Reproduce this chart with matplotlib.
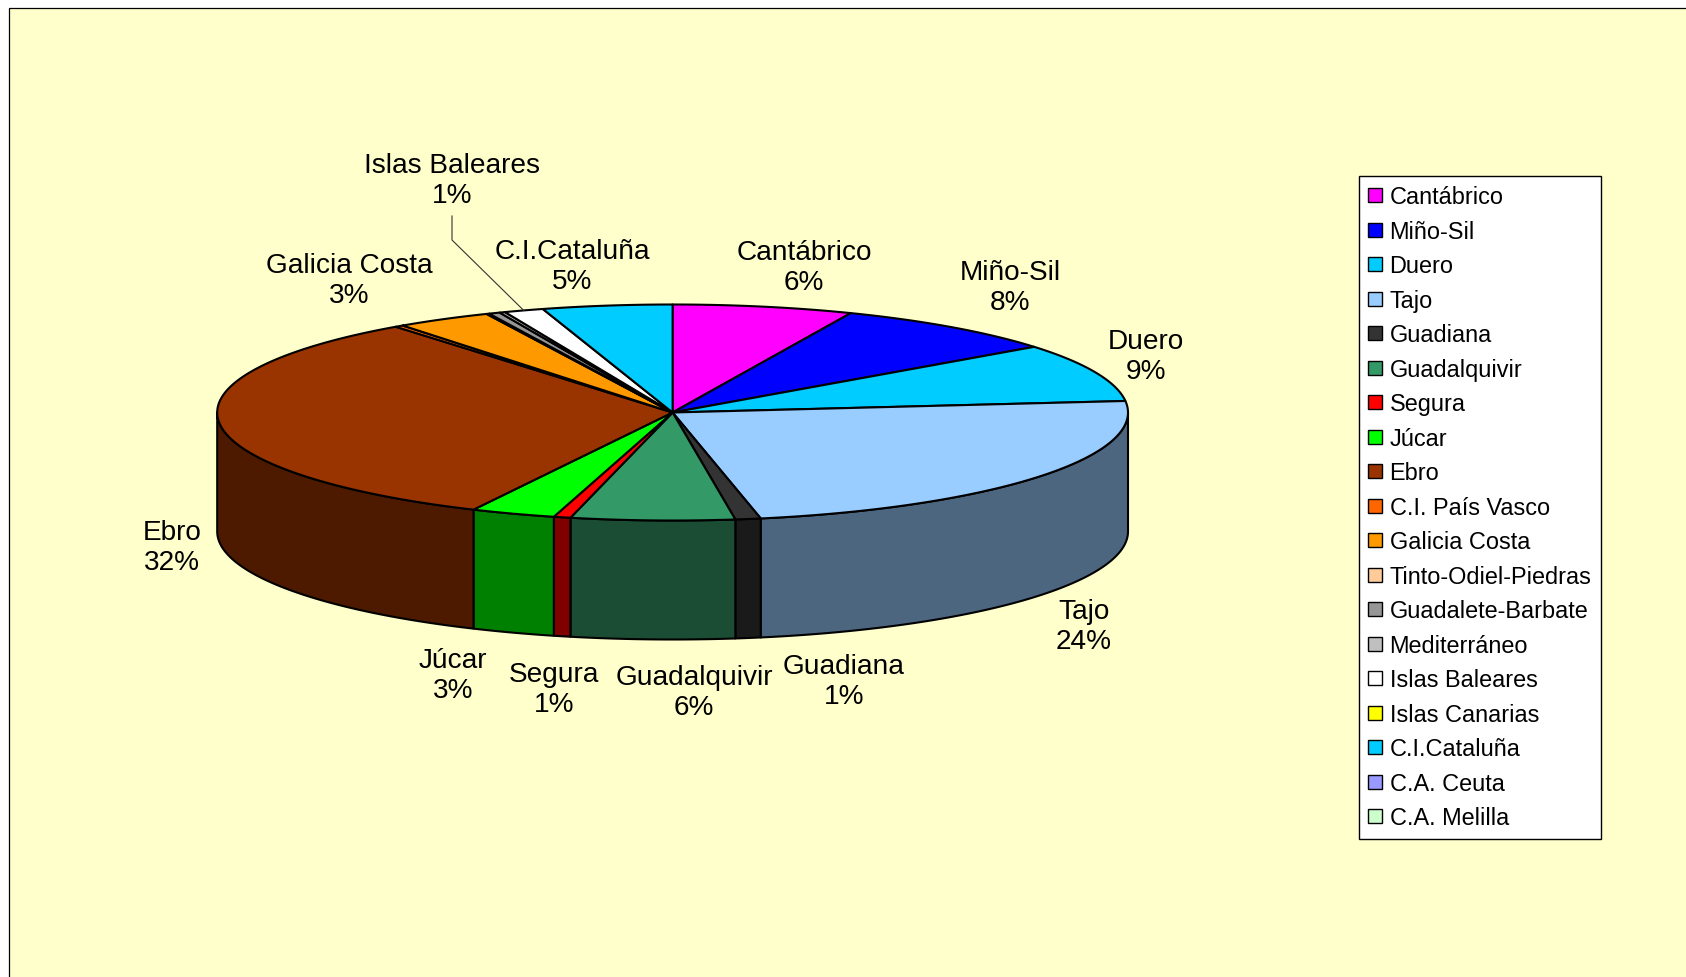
"""Distribucion por cuencas hidrograficas - tarta 3D estilo Excel
"""
import numpy as np
import matplotlib
matplotlib.use('Agg')
import matplotlib.pyplot as plt
from matplotlib.patches import Polygon, Rectangle, Patch
from matplotlib.colors import to_rgb

plt.rcParams['font.family'] = ['Liberation Sans', 'DejaVu Sans']

# datos: porcentaje de cada cuenca
cuencas = ['Cantábrico', 'Miño-Sil', 'Duero', 'Tajo', 'Guadiana',
	'Guadalquivir', 'Segura', 'Júcar', 'Ebro', 'C.I. País Vasco',
	'Galicia Costa', 'Tinto-Odiel-Piedras', 'Guadalete-Barbate',
	'Mediterráneo', 'Islas Baleares', 'Islas Canarias', 'C.I.Cataluña',
	'C.A. Ceuta', 'C.A. Melilla']
valores = [6.4, 8.2, 8.7, 23.6, 0.9, 5.8, 0.6, 3.0, 32.4, 0.3,
	3.4, 0.1, 0.4, 0.2, 1.4, 0.0, 4.6, 0.0, 0.0]
colores = ['#FF00FF', '#0000FF', '#00CCFF', '#99CCFF', '#333333',
	'#339966', '#FF0000', '#00FF00', '#993300', '#FF6600',
	'#FF9900', '#FFCC99', '#969696', '#C0C0C0', '#FFFFFF',
	'#FFFF00', '#00CCFF', '#9999FF', '#CCFFCC']

# etiquetas que aparecen sobre el grafico
etiquetadas = ['Cantábrico', 'Miño-Sil', 'Duero', 'Tajo', 'Guadiana',
	'Guadalquivir', 'Segura', 'Júcar', 'Ebro', 'Galicia Costa',
	'C.I.Cataluña', 'Islas Baleares']

# layout en pixeles (y hacia abajo)
W, H = 1686, 978
CX, CY = 672.6, 413.5
RX, RY = 455.4, 108.0
DEPTH = 119.0
LABEL_XY = {
	'Cantábrico': (804, 268), 'Miño-Sil': (1010, 288),
	'Duero': (1146, 357), 'Tajo': (1084, 627),
	'Guadiana': (844, 682), 'Guadalquivir': (694, 693),
	'Segura': (554, 690), 'Júcar': (453, 676), 'Ebro': (172, 548),
	'Galicia Costa': (349, 281), 'C.I.Cataluña': (572, 267),
	'Islas Baleares': (452, 181)}


def punto(t, dy=0.0):
	''' punto del borde de la elipse para el angulo t (grados, horario desde arriba) '''
	r = np.radians(t)
	return CX + RX * np.sin(r), CY - RY * np.cos(r) + dy


def oscuro(c, f=0.5):
	return tuple(v * f for v in to_rgb(c))


fig = plt.figure(figsize=(W / 100, H / 100), dpi=100)
fig.patch.set_facecolor('white')
ax = fig.add_axes([0, 0, 1, 1])
ax.set_xlim(0, W)
ax.set_ylim(H, 0)
ax.axis('off')

ax.add_patch(Rectangle((8.5, 9), W, H, facecolor='#FFFFCC',
	edgecolor='black', linewidth=0.9, zorder=0))

total = sum(valores)
bordes = np.concatenate([[0], np.cumsum(valores)]) / total * 360.0

# caras laterales (solo la mitad delantera es visible)
for i, v in enumerate(valores):
	if v <= 0:
		continue
	t0, t1 = max(bordes[i], 90.0), min(bordes[i + 1], 270.0)
	if t1 <= t0:
		continue
	ts = np.linspace(t0, t1, max(2, int((t1 - t0) * 3)))
	x, y = punto(ts)
	xs = np.concatenate([x, x[::-1]])
	ys = np.concatenate([y, y[::-1] + DEPTH])
	ax.add_patch(Polygon(np.column_stack([xs, ys]), closed=True,
		facecolor=oscuro(colores[i]), edgecolor='black',
		linewidth=1.5, joinstyle='round', zorder=2))

# cara superior
for i, v in enumerate(valores):
	if v <= 0:
		continue
	t0, t1 = bordes[i], bordes[i + 1]
	ts = np.linspace(t0, t1, max(2, int((t1 - t0) * 3)))
	x, y = punto(ts)
	xs = np.concatenate([[CX], x])
	ys = np.concatenate([[CY], y])
	ax.add_patch(Polygon(np.column_stack([xs, ys]), closed=True,
		facecolor=colores[i], edgecolor='black',
		linewidth=1.5, joinstyle='round', zorder=3))

# etiquetas de datos
for nombre in etiquetadas:
	i = cuencas.index(nombre)
	pct = round(valores[i] / total * 100)
	lx, ly = LABEL_XY[nombre]
	ax.text(lx, ly, '%s\n%d%%' % (nombre, pct), ha='center', va='center',
		multialignment='center', fontsize=20.2, linespacing=1.17,
		color='black', zorder=5)

# linea guia de Islas Baleares
i = cuencas.index('Islas Baleares')
ex, ey = punto((bordes[i] + bordes[i + 1]) / 2)
lx, ly = LABEL_XY['Islas Baleares']
ax.plot([lx, lx, ex], [ly + 36, ly + 60, ey], color='#333333',
	linewidth=0.8, zorder=4)

# leyenda
handles = [Patch(facecolor=c, edgecolor='black', linewidth=1.0)
	for c in colores]
leg = ax.legend(handles, cuencas, loc='upper left',
	bbox_to_anchor=(1359 / W, 1 - 177 / H), fontsize=16.9,
	frameon=True, fancybox=False, shadow=False, framealpha=1,
	handlelength=0.6, handleheight=0.55, handletextpad=0.3,
	borderpad=0.4, labelspacing=0.49, borderaxespad=0)
leg.get_frame().set_edgecolor('black')
leg.get_frame().set_linewidth(1.0)
leg.set_zorder(6)

fig.savefig('out.png', dpi=100, facecolor=fig.get_facecolor())
